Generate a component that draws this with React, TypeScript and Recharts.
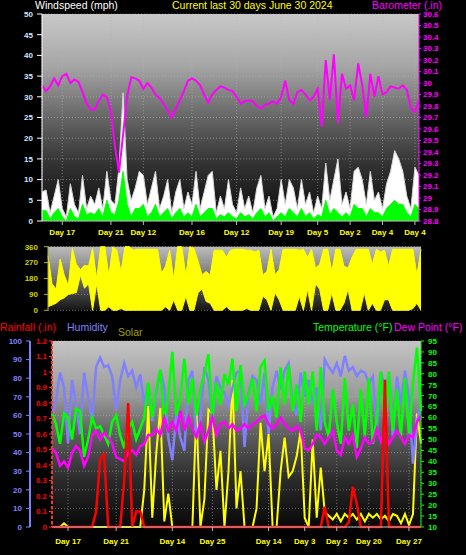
import { Area, CartesianGrid, ComposedChart, Line, XAxis, YAxis } from "recharts";

const FONT = "'Liberation Sans', Arial, sans-serif";

// Wind speed (mph) and barometer (in), sampled roughly every 7-8 hours
const windGust = [
  7, 7.5, 2, 6, 10, 3, 1, 9, 4, 2,
  11, 3, 6, 4, 8, 3, 12, 5, 4, 13,
  31, 10, 5, 8, 12, 11, 4, 8, 12, 3,
  6, 10, 2, 7, 10, 3, 7, 4, 12, 3,
  7, 11, 12, 2, 6, 3, 10, 4, 2, 8,
  3, 6, 2, 8, 11, 3, 6, 1, 3, 10,
  4, 10, 8, 3, 10, 4, 7, 2, 6, 3,
  14, 5, 10, 15, 4, 7, 3, 12, 13, 10,
  4, 12, 5, 7, 3, 9, 12, 17, 15, 12,
  6, 3, 13, 11,
];
const windAvg = [
  2.5, 2.5, 0.5, 2, 3, 1, 0, 3, 1, 0.5,
  4, 1.5, 2, 1.5, 3, 1, 5, 2, 1.5, 5,
  12, 4, 1, 3, 3, 4, 1, 2, 4, 1,
  2, 3, 0.5, 2, 3, 1, 2, 1, 4, 1,
  2, 3, 3, 0.5, 1.5, 1, 2, 1, 0.5, 2,
  1, 1.5, 0.5, 2, 3, 1, 2, 0, 1, 2,
  1, 3, 2, 1, 3, 1, 2, 0.5, 1.5, 1,
  5, 1.5, 3, 2, 1, 2, 1, 4, 3, 3,
  1, 3, 2, 2, 1, 3, 4, 5, 4, 4,
  2, 1, 4, 3,
];
const barometer = [
  29.98, 29.93, 29.97, 30.04, 29.98, 30.06, 30.08, 30.0, 30.03, 30.01,
  29.92, 29.82, 29.77, 29.77, 29.84, 29.9, 29.88, 29.75, 29.45, 29.22,
  29.55, 29.88, 30.05, 30.04, 30.02, 29.95, 30.0, 29.96, 29.9, 29.87,
  29.82, 29.76, 29.7, 29.78, 29.85, 29.93, 30.02, 30.04, 30.02, 29.98,
  29.9, 29.83, 29.9, 29.94, 29.97, 29.96, 29.94, 29.93, 29.88, 29.82,
  29.84, 29.85, 29.84, 29.8, 29.78, 29.81, 29.82, 29.84, 29.82, 29.88,
  30.02, 29.85, 29.82, 29.92, 29.94, 29.9, 29.85, 29.88, 29.95, 29.62,
  30.2, 29.85, 30.25, 29.65, 30.08, 29.95, 29.98, 29.85, 30.17, 29.98,
  29.7, 30.08, 29.88, 30.06, 29.9, 29.92, 29.97, 29.96, 29.95, 29.98,
  29.94, 29.78, 29.75, 29.85,
];
const windTicks = [5, 17, 25, 37, 48, 59, 68, 76, 84, 92];
const windTickLabels = ["Day 17", "Day 21", "Day 12", "Day 16", "Day 12", "Day 19", "Day 5", "Day 2", "Day 4", "Day 4"];
const windSpeedTicks = [0, 5, 10, 15, 20, 25, 30, 35, 40, 45, 50];
const baroTicks = [
  28.8, 28.9, 29, 29.1, 29.2, 29.3, 29.4, 29.5, 29.6, 29.7,
  29.8, 29.9, 30, 30.1, 30.2, 30.3, 30.4, 30.5, 30.6,
];

// Wind direction (degrees), lowest and highest reading in each slot
const dirLow = [
  20, 30, 40, 60, 70, 90, 95, 100, 200, 125,
  150, 0, 150, 0, 0, 20, 0, 0, 10, 0,
  0, 0, 0, 0, 0, 0, 0, 0, 0, 20,
  0, 60, 0, 0, 80, 0, 0, 100, 120, 50,
  40, 0, 0, 0, 20, 0, 0, 0, 0, 10,
  0, 0, 0, 80, 60, 0, 100, 60, 0, 0,
  0, 0, 80, 0, 120, 0, 150, 120, 0, 0,
  100, 0, 0, 40, 120, 0, 0, 0, 100, 0,
  40, 0, 0, 60, 60, 0, 0, 0, 0, 0,
  10, 40, 0,
];
const dirHigh = [
  310, 150, 120, 290, 200, 140, 350, 260, 230, 255,
  250, 350, 180, 360, 360, 200, 360, 340, 220, 360,
  360, 340, 345, 345, 345, 345, 345, 345, 210, 250,
  340, 180, 360, 360, 200, 360, 350, 280, 200, 220,
  200, 340, 340, 340, 300, 340, 345, 345, 345, 340,
  340, 330, 340, 200, 220, 345, 200, 230, 345, 345,
  345, 345, 340, 345, 300, 345, 240, 260, 345, 345,
  220, 345, 345, 250, 240, 300, 345, 345, 345, 345,
  260, 345, 330, 340, 250, 345, 345, 345, 345, 345,
  345, 200, 345,
];
const dirTicks = [0, 90, 180, 270, 360];
const compass = ["N", "E", "S", "W", "N"];

// Humidity (%), temperature / dew point (°F), rainfall (in), solar (% of scale)
const humidity = [
  59, 68, 83, 75, 45, 79, 66, 50, 83, 70,
  57, 86, 91, 86, 87, 81, 63, 79, 88, 81,
  84, 75, 82, 66, 77, 57, 72, 84, 75, 48,
  36, 61, 48, 41, 79, 84, 48, 57, 86, 79,
  57, 81, 75, 72, 65, 75, 83, 84, 43, 72,
  81, 79, 66, 83, 50, 75, 84, 74, 84, 88,
  66, 60, 83, 70, 79, 66, 75, 52, 90, 86,
  83, 88, 81, 92, 84, 86, 81, 84, 83, 77,
  81, 52, 83, 75, 81, 48, 81, 66, 84, 70,
  34, 57, 66,
];
const temperature = [
  62, 57, 48, 62, 60, 50, 64, 63, 42, 50,
  60, 55, 56, 52, 48, 58, 61, 52, 46, 55,
  58, 50, 55, 60, 76, 60, 73, 82, 58, 70,
  90, 61, 69, 87, 66, 78, 61, 73, 80, 89,
  61, 76, 66, 80, 75, 87, 63, 84, 66, 70,
  78, 63, 83, 86, 63, 70, 60, 83, 66, 84,
  63, 75, 58, 81, 66, 81, 54, 83, 58, 51,
  73, 58, 48, 78, 54, 66, 46, 73, 51, 78,
  48, 61, 81, 54, 81, 54, 73, 51, 78, 52,
  76, 92, 63,
];
const dewPoint = [
  46, 44, 38, 40, 37, 44, 47, 45, 38, 42,
  52, 54, 50, 53, 51, 48, 42, 41, 40, 44,
  45, 43, 47, 48, 52, 52, 55, 52, 60, 54,
  58, 54, 63, 54, 60, 55, 51, 57, 49, 54,
  60, 52, 57, 58, 55, 57, 54, 55, 57, 55,
  57, 58, 60, 61, 57, 55, 57, 60, 57, 55,
  54, 56, 54, 46, 45, 48, 52, 51, 48, 51,
  54, 45, 43, 51, 48, 52, 42, 46, 51, 48,
  49, 55, 49, 54, 48, 51, 54, 51, 48, 52,
  51, 58, 61,
];
const rainfall = [
  0, 0, 0, 0, 0, 0, 0, 0, 0, 0,
  0, 0.1, 0.44, 0.47, 0, 0, 0, 0, 0.3, 0.8,
  0, 0.1, 0.1, 0, 0, 0, 0, 0, 0, 0,
  0, 0, 0, 0, 0, 0, 0, 0, 0, 0,
  0, 0, 0, 0, 0, 0, 0, 0, 0, 0,
  0, 0, 0, 0, 0, 0, 0, 0, 0, 0,
  0, 0, 0, 0, 0, 0, 0, 0, 0.13, 0,
  0, 0, 0, 0, 0.03, 0.26, 0.15, 0, 0, 0,
  0, 0, 0, 0.95, 0, 0, 0, 0, 0, 0,
  0, 0, 0,
];
const solar = [
  0, 0, 0, 2, 0, 0, 0, 0, 0, 0,
  0, 0, 0, 0, 0, 0, 0, 0, 0, 0,
  0, 0, 0, 20, 65, 5, 40, 64, 3, 18,
  0, 0, 0, 0, 0, 0, 64, 0, 15, 63,
  61, 20, 41, 0, 30, 79, 10, 30, 0, 0,
  0, 10, 56, 30, 50, 0, 0, 30, 48, 27,
  30, 38, 52, 5, 0, 47, 5, 32, 8, 6,
  4, 7, 3, 7, 5, 7, 4, 7, 3, 7,
  5, 7, 4, 6, 3, 7, 6, 2, 7, 1,
  7, 61, 45,
];
const climateTicks = [4, 16, 30, 40, 54, 63, 71, 79, 89];
const climateTickLabels = ["Day 17", "Day 21", "Day 14", "Day 25", "Day 14", "Day 3", "Day 2", "Day 20", "Day 27"];
const humidityTicks = [0, 10, 20, 30, 40, 50, 60, 70, 80, 90, 100];
const rainTicks = [0, 0.1, 0.2, 0.3, 0.4, 0.5, 0.6, 0.7, 0.8, 0.9, 1, 1.1, 1.2];
const tempTicks = [10, 15, 20, 25, 30, 35, 40, 45, 50, 55, 60, 65, 70, 75, 80, 85, 90, 95];

const windData = windGust.map((gust, i) => ({ i, gust, avg: windAvg[i], baro: barometer[i] }));
const dirData = dirLow.map((lo, i) => ({ i, range: [lo, dirHigh[i]] }));
const climateData = humidity.map((hum, i) => ({
  i,
  hum,
  temp: temperature[i],
  dew: dewPoint[i],
  rain: rainfall[i],
  solar: solar[i],
}));

const dayFormatter = (ticks: number[], labels: string[]) => (v: number) => labels[ticks.indexOf(v)] ?? "";
const trim = (v: number) => String(Number(v.toFixed(1)));

const tickFont = { fontSize: 8, fontWeight: 700, fontFamily: FONT };
const grid = { stroke: "#b4b4b4", strokeDasharray: "1 2", strokeOpacity: 0.55 };

// left axes are stacked by id: "a-rain" sits next to the plot, "b-hum" outside it
const RAIN = "a-rain";
const HUM = "b-hum";

function Label({ x, y, color, children }: { x: number; y: number; color: string; children: string }) {
  return (
    <div style={{ position: "absolute", left: x, top: y, color, fontSize: 10.5, lineHeight: "10px", fontFamily: FONT, whiteSpace: "nowrap" }}>
      {children}
    </div>
  );
}

function Background({ id, stops }: { id: string; stops: [number, string][] }) {
  return (
    <defs>
      <linearGradient id={id} x1="0" y1="0" x2="0" y2="1">
        {stops.map(([o, c]) => (
          <stop key={o} offset={o} stopColor={c} />
        ))}
      </linearGradient>
    </defs>
  );
}

export default function App() {
  return (
    <div style={{ position: "absolute", left: 0, top: 0, width: 466, height: 555, background: "#000", overflow: "hidden" }}>
      <div style={{ position: "absolute", left: 0, top: 0 }}>
        <ComposedChart width={466} height={245} data={windData} margin={{ top: 14, right: 0, bottom: 0, left: 0 }}>
          <Background id="bgTop" stops={[[0, "#c8c8c8"], [0.25, "#a6a6a6"], [0.5, "#666666"], [0.72, "#333333"], [1, "#0a0a0a"]]} />
          <CartesianGrid yAxisId="wind" fill="url(#bgTop)" fillOpacity={1} {...grid} />
          <XAxis
            dataKey="i"
            type="number"
            domain={[0, 93]}
            ticks={windTicks}
            interval={0}
            tickFormatter={dayFormatter(windTicks, windTickLabels)}
            tick={{ ...tickFont, fill: "#ffff00" }}
            height={24}
            stroke="#bbbbbb"
            tickSize={4}
            tickMargin={4}
          />
          <YAxis
            yAxisId="wind"
            domain={[0, 50]}
            ticks={windSpeedTicks}
            interval={0}
            width={42}
            tick={{ ...tickFont, fill: "#d4e6ff" }}
            stroke="#ffffff"
            tickSize={5}
            tickMargin={4}
          />
          <YAxis
            yAxisId="baro"
            orientation="right"
            domain={[28.8, 30.6]}
            ticks={baroTicks}
            interval={0}
            width={47}
            tickFormatter={trim}
            tick={{ ...tickFont, fill: "#ff00ff" }}
            stroke="#ff00ff"
            tickSize={2}
            tickMargin={2}
          />
          <Area yAxisId="wind" dataKey="gust" type="linear" stroke="#d8d8d8" strokeWidth={1} fill="#ffffff" fillOpacity={1} isAnimationActive={false} />
          <Area yAxisId="wind" dataKey="avg" type="linear" stroke="#00ff00" strokeWidth={1} fill="#00ff00" fillOpacity={1} isAnimationActive={false} />
          <Line yAxisId="baro" dataKey="baro" type="linear" stroke="#ff00ff" strokeWidth={2} dot={false} isAnimationActive={false} />
        </ComposedChart>
      </div>

      <Label x={35} y={0} color="#ffffff">Windspeed (mph)</Label>
      <Label x={172} y={0} color="#ffff00">Current last 30 days June 30 2024</Label>
      <Label x={372} y={0} color="#ff00ff">Barometer (.in)</Label>

      <div style={{ position: "absolute", left: 0, top: 238 }}>
        <ComposedChart width={466} height={80} data={dirData} margin={{ top: 8.7, right: 0, bottom: 7.7, left: 0 }}>
          <Background id="bgDir" stops={[[0, "#bcbcbc"], [0.45, "#777777"], [1, "#151515"]]} />
          <CartesianGrid yAxisId="dir" vertical={false} fill="url(#bgDir)" fillOpacity={1} {...grid} />
          <XAxis dataKey="i" type="number" domain={[0, 92]} hide />
          <YAxis
            yAxisId="dir"
            domain={[0, 360]}
            ticks={dirTicks}
            interval={0}
            width={48}
            tick={{ ...tickFont, fill: "#d0d000" }}
            stroke="#b0b030"
            tickSize={4}
            tickMargin={6}
          />
          <YAxis
            yAxisId="compass"
            orientation="right"
            domain={[0, 360]}
            ticks={dirTicks}
            interval={0}
            width={45}
            tickFormatter={(v: number) => compass[dirTicks.indexOf(v)]}
            tick={{ fontSize: 14, fontFamily: FONT, fill: "#ffff00", textAnchor: "start" }}
            axisLine={false}
            tickLine={false}
            tickSize={0}
            tickMargin={13}
          />
          <Area yAxisId="dir" dataKey="range" type="linear" stroke="#ffff00" strokeWidth={1} fill="#ffff00" fillOpacity={1} isAnimationActive={false} />
        </ComposedChart>
      </div>

      <Label x={0} y={322} color="#ff0000">Rainfall (.in)</Label>
      <Label x={67} y={322} color="#8080ff">Humidity</Label>
      <Label x={118} y={327} color="#a0a000">Solar</Label>
      <Label x={313} y={322} color="#00ff00">Temperature (°F)</Label>
      <Label x={394} y={322} color="#ff00ff">Dew Point (°F)</Label>

      <div style={{ position: "absolute", left: 0, top: 330 }}>
        <ComposedChart width={466} height={225} data={climateData} margin={{ top: 11, right: 0, bottom: 0, left: 0 }}>
          <Background id="bgClimate" stops={[[0, "#c4c4c4"], [0.3, "#999999"], [0.5, "#5e5e5e"], [0.75, "#2a2a2a"], [1, "#080808"]]} />
          <CartesianGrid yAxisId={HUM} fill="url(#bgClimate)" fillOpacity={1} {...grid} />
          <XAxis
            dataKey="i"
            type="number"
            domain={[0, 92]}
            ticks={climateTicks}
            interval={0}
            tickFormatter={dayFormatter(climateTicks, climateTickLabels)}
            tick={{ ...tickFont, fill: "#ffff00" }}
            height={28}
            stroke="#bbbbbb"
            tickSize={4}
            tickMargin={7}
          />
          <YAxis
            yAxisId={RAIN}
            domain={[0, 1.2]}
            ticks={rainTicks}
            interval={0}
            width={22}
            tickFormatter={trim}
            tick={{ ...tickFont, fill: "#ff0000" }}
            stroke="#ff3030"
            axisLine={{ stroke: "#ff3030", strokeDasharray: "3 2", strokeWidth: 2 }}
            tickSize={3}
            tickMargin={2}
          />
          <YAxis
            yAxisId={HUM}
            domain={[0, 100]}
            ticks={humidityTicks}
            interval={0}
            width={30}
            tick={{ ...tickFont, fill: "#8080ff" }}
            stroke="#8080ff"
            axisLine={{ stroke: "#8080ff", strokeWidth: 2 }}
            tickSize={4}
            tickMargin={4}
          />
          <YAxis
            yAxisId="temp"
            orientation="right"
            domain={[10, 95]}
            ticks={tempTicks}
            interval={0}
            width={45}
            tick={{ ...tickFont, fill: "#00ff00" }}
            stroke="#00ff00"
            tickSize={3}
            tickMargin={4}
          />
          <YAxis yAxisId="solar" domain={[0, 100]} hide />
          <Line yAxisId="solar" dataKey="solar" type="linear" stroke="#ffff00" strokeWidth={2} dot={false} isAnimationActive={false} />
          <Line yAxisId={HUM} dataKey="hum" type="linear" stroke="#8080ff" strokeWidth={2.5} dot={false} isAnimationActive={false} />
          <Line yAxisId="temp" dataKey="temp" type="linear" stroke="#00ff00" strokeWidth={2.5} dot={false} isAnimationActive={false} />
          <Line yAxisId="temp" dataKey="dew" type="linear" stroke="#ff00ff" strokeWidth={2.5} dot={false} isAnimationActive={false} />
          <Line yAxisId={RAIN} dataKey="rain" type="linear" stroke="#ff0000" strokeWidth={2.5} dot={false} isAnimationActive={false} />
        </ComposedChart>
      </div>
    </div>
  );
}
